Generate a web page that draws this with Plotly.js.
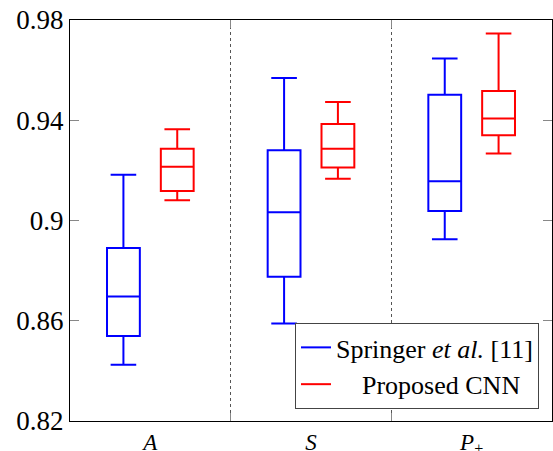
<!DOCTYPE html>
<html>
<head>
<meta charset="utf-8">
<script src="https://cdn.plot.ly/plotly-3.0.1.min.js"></script>
<style>
html,body{margin:0;padding:0;background:#fff;font-family:'Liberation Serif',serif;}
#chart{width:553px;height:451px;}
</style>
</head>
<body>
<div id="chart"></div>
<script>
const categories = ['A', 'S', 'P+'];
const categoryLabels = ['<i>A</i>', '<i>S</i>', '<i>P</i><sub>+</sub>'];
const seriesNames = ['Springer <i>et al.</i> [11]', '\u00a0\u00a0\u00a0\u00a0Proposed CNN'];

const springerLower  = [0.8424, 0.8589, 0.8925];
const springerQ1     = [0.8539, 0.8776, 0.9038];
const springerMedian = [0.8697, 0.9033, 0.9157];
const springerQ3     = [0.8890, 0.9280, 0.9502];
const springerUpper  = [0.9183, 0.9569, 0.9646];

const cnnLower  = [0.9081, 0.9167, 0.9267];
const cnnQ1     = [0.9118, 0.9211, 0.9340];
const cnnMedian = [0.9214, 0.9286, 0.9407];
const cnnQ3     = [0.9286, 0.9385, 0.9517];
const cnnUpper  = [0.9364, 0.9473, 0.9746];

const yTicks = [0.82, 0.86, 0.9, 0.94, 0.98];
const yTickLabels = ['0.82', '0.86', '0.9', '0.94', '0.98'];

const BLUE = '#0000ff', RED = '#ff0000';
const FONT = 'Liberation Serif';

function boxTrace(name, color, lo, q1, med, q3, hi) {
  return {
    type: 'box', name: name, x: categories,
    lowerfence: lo, q1: q1, median: med, q3: q3, upperfence: hi,
    boxpoints: false, showlegend: false,
    line: {color: color, width: 2},
    fillcolor: 'rgba(255,255,255,0)',
    whiskerwidth: 0.78,
    hoverinfo: 'skip'
  };
}
function legendTrace(name, color) {
  return {type: 'scatter', mode: 'lines', name: name, x: [null], y: [null],
          line: {color: color, width: 2}, hoverinfo: 'skip'};
}

const data = [
  boxTrace(seriesNames[0], BLUE, springerLower, springerQ1, springerMedian, springerQ3, springerUpper),
  boxTrace(seriesNames[1], RED, cnnLower, cnnQ1, cnnMedian, cnnQ3, cnnUpper),
  legendTrace(seriesNames[0], BLUE),
  legendTrace(seriesNames[1], RED)
];

const layout = {
  width: 553, height: 451,
  margin: {l: 70, r: 1, t: 20, b: 30},
  paper_bgcolor: '#fff', plot_bgcolor: '#fff',
  font: {family: FONT, size: 26, color: '#000'},
  boxmode: 'group', boxgap: 0.33, boxgroupgap: 0.39,
  showlegend: true,
  legend: {
    x: 0.973, xanchor: 'right', y: 0.03, yanchor: 'bottom',
    bgcolor: '#fff', bordercolor: '#444', borderwidth: 1,
    font: {family: FONT, size: 26, color: '#000'},
    tracegroupgap: 0
  },
  xaxis: {
    type: 'category', categoryorder: 'array', categoryarray: categories,
    tickvals: categories, ticktext: categoryLabels,
    range: [-0.5, 2.5], tickson: 'boundaries',
    showgrid: true, gridcolor: '#555', griddash: 'dot', gridwidth: 1,
    ticks: 'inside', ticklen: 8, tickcolor: '#888', tickwidth: 1,
    showline: true, linecolor: '#000', linewidth: 1, mirror: 'ticks',
    zeroline: false, fixedrange: true,
    tickfont: {family: FONT, size: 23, color: '#000'}
  },
  yaxis: {
    range: [0.82, 0.98], tickvals: yTicks, ticktext: yTickLabels,
    showgrid: false, zeroline: false,
    ticks: 'inside', ticklen: 9, tickcolor: '#888', tickwidth: 1,
    showline: true, linecolor: '#000', linewidth: 1, mirror: 'ticks',
    fixedrange: true,
    tickfont: {family: FONT, size: 27, color: '#000'}
  }
};

Plotly.newPlot('chart', data, layout, {displayModeBar: false});
</script>
</body>
</html>
